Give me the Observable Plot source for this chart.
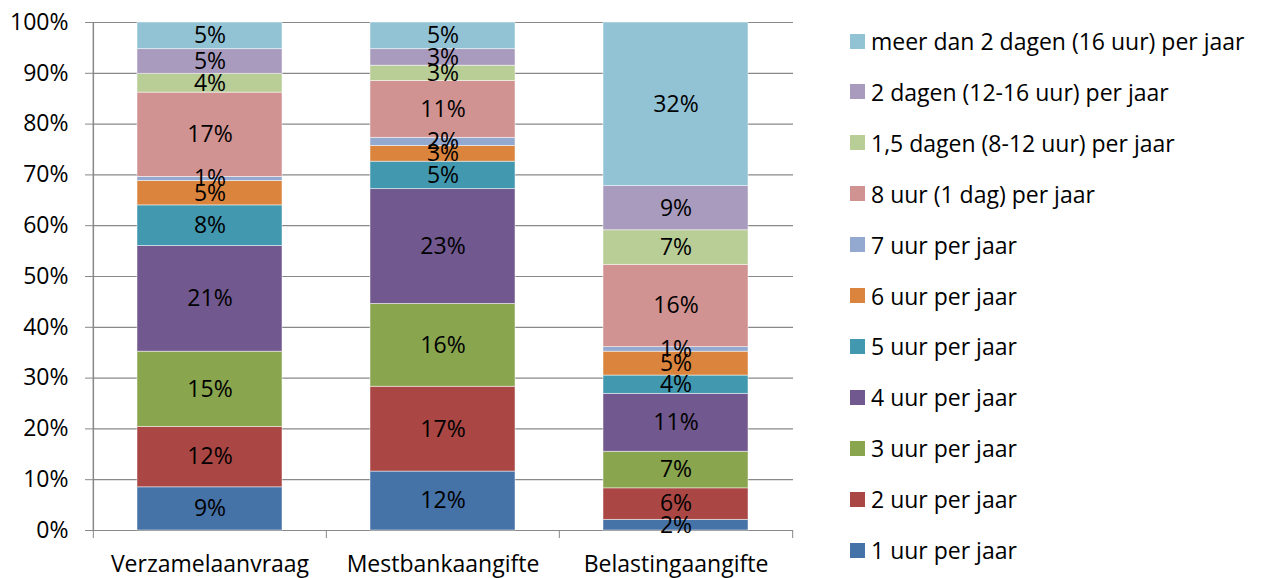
<!DOCTYPE html>
<html>
<head>
<meta charset="utf-8">
<script src="https://cdn.jsdelivr.net/npm/d3@7"></script>
<script src="https://cdn.jsdelivr.net/npm/@observablehq/plot@0.6"></script>
<style>
  html, body { margin: 0; padding: 0; background: #fff; }
  #wrap { position: relative; width: 1261px; height: 578px; font-family: "Open Sans", sans-serif; }
  #legend { position: absolute; left: 850px; top: 0; }
  .item { position: absolute; left: 0; white-space: nowrap; display: flex; align-items: center; font-size: 23px; color: #000; }
  .sw { width: 15px; height: 15px; margin-right: 6px; flex: none; }
</style>
</head>
<body>
<div id="wrap"><div id="legend"></div></div>
<script>
const categories = ["Verzamelaanvraag", "Mestbankaangifte", "Belastingaangifte"];
const series = [
  "1 uur per jaar",
  "2 uur per jaar",
  "3 uur per jaar",
  "4 uur per jaar",
  "5 uur per jaar",
  "6 uur per jaar",
  "7 uur per jaar",
  "8 uur (1 dag) per jaar",
  "1,5 dagen (8-12 uur) per jaar",
  "2 dagen (12-16 uur) per jaar",
  "meer dan 2 dagen (16 uur) per jaar"
];
const verzamelaanvraag = [8.5, 11.9, 14.8, 20.8, 8.0, 4.8, 0.8, 16.6, 3.7, 4.85, 5.25];
const mestbankaangifte = [11.6, 16.7, 16.3, 22.6, 5.4, 3.1, 1.6, 11.2, 3.0, 3.25, 5.25];
const belastingaangifte = [2.1, 6.2, 7.2, 11.4, 3.6, 4.7, 0.9, 16.2, 6.8, 8.7, 32.2];
const colors = ["#4572A7", "#AA4643", "#89A54E", "#71588F", "#4198AF", "#DB843D", "#93A9CF", "#D19392", "#B9CD96", "#A99BBD", "#92C3D5"];
const yTicks = [0, 10, 20, 30, 40, 50, 60, 70, 80, 90, 100];

const valuesByCategory = [verzamelaanvraag, mestbankaangifte, belastingaangifte];
const data = [];
categories.forEach((c, ci) => {
  series.forEach((s, si) => {
    data.push({category: c, series: s, value: valuesByCategory[ci][si], label: Math.round(valuesByCategory[ci][si]) + "%"});
  });
});

const W = 1261, H = 578;
const mL = 93, mR = 468, mT = 22, mB = 48;
const innerW = W - mL - mR;
const pInner = 0.377, pOuter = pInner / 2;
const step = innerW / (categories.length - pInner + 2 * pOuter);
const gray = "#888888";
const fs = 23;

const chart = Plot.plot({
  width: W,
  height: H,
  marginLeft: mL,
  marginRight: mR,
  marginTop: mT,
  marginBottom: mB,
  style: {fontFamily: "Open Sans", fontSize: fs + "px", color: "#000", background: "transparent"},
  x: {domain: categories, paddingInner: pInner, paddingOuter: pOuter, label: null},
  y: {domain: [0, 100], label: null},
  color: {domain: series, range: colors},
  marks: [
    Plot.ruleY(yTicks, {stroke: gray, strokeWidth: 1.2}),
    Plot.barY(data, Plot.stackY({x: "category", y: "value", fill: "series", stroke: "#fff", strokeWidth: 0.8, strokeOpacity: 0.6})),
    Plot.text(data, Plot.stackY({x: "category", y: "value", text: "label", fill: "#000", fontSize: fs})),
    Plot.ruleX([categories[0]], {dx: -step / 2, stroke: gray, strokeWidth: 1.5}),
    Plot.axisY({ticks: yTicks, tickFormat: d => d + "%", tickSize: 8, tickPadding: 17, stroke: gray, fill: "#000", fontSize: fs, label: null}),
    Plot.axisX({tickSize: 0, tickPadding: 25, fill: "#000", fontSize: fs, label: null}),
    Plot.axisX({ticks: categories, tickFormat: () => "", tickSize: 8, dx: -step / 2, stroke: gray, label: null}),
    Plot.axisX({ticks: [categories[categories.length - 1]], tickFormat: () => "", tickSize: 8, dx: step / 2, stroke: gray, label: null})
  ]
});
document.getElementById("wrap").prepend(chart);

const legend = document.getElementById("legend");
const rowStep = 50.9;
series.slice().reverse().forEach((s, i) => {
  const idx = series.indexOf(s);
  const item = document.createElement("div");
  item.className = "item";
  item.style.top = (41 + i * rowStep - 15) + "px";
  item.style.height = "30px";
  const sw = document.createElement("div");
  sw.className = "sw";
  sw.style.background = colors[idx];
  const t = document.createElement("span");
  t.textContent = s;
  item.appendChild(sw);
  item.appendChild(t);
  legend.appendChild(item);
});
</script>
</body>
</html>
